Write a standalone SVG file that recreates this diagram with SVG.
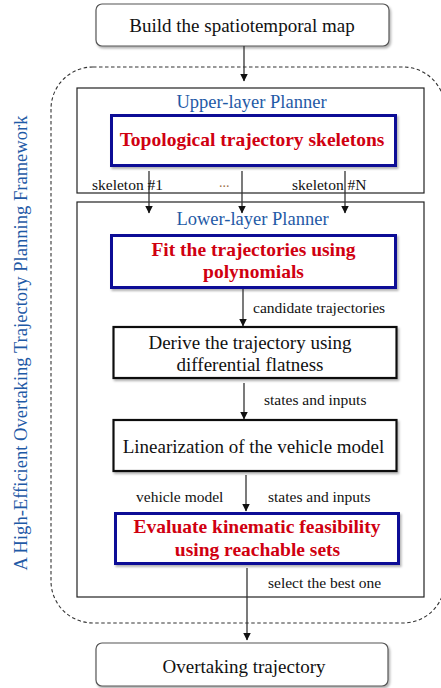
<svg xmlns="http://www.w3.org/2000/svg" width="441" height="688" viewBox="0 0 441 688">
<style>
text{font-family:"Liberation Serif","Times New Roman",serif}
.t{font-size:19px;fill:#111;text-anchor:middle}
.b{font-size:19.5px;font-weight:bold;fill:#D00010;text-anchor:middle}
.ti{font-size:18.5px;fill:#1F5AA6;text-anchor:middle}
.l{font-size:15.5px;fill:#111}
.rb{fill:#fff;stroke:#555;stroke-width:1.2}
.bb{fill:#fff;stroke:#0A0A96;stroke-width:3}
.kb{fill:#fff;stroke:#111;stroke-width:2.2}
.pl{fill:none;stroke:#222;stroke-width:1.2}
.c{stroke:#333;stroke-width:1.3;fill:none;marker-end:url(#ah)}
</style>
<defs>
<marker id="ah" markerWidth="8" markerHeight="10" refX="7.5" refY="5" orient="auto" markerUnits="userSpaceOnUse" viewBox="0 0 8 10">
<path d="M0,1 L8,5 L0,9 Z" fill="#111"/>
</marker>
<filter id="sh" x="-10%" y="-10%" width="120%" height="130%">
<feDropShadow dx="1.5" dy="2" stdDeviation="1.2" flood-color="#000" flood-opacity="0.3"/>
</filter>
</defs>
<rect width="441" height="688" fill="#fff"/>
<g id="framework">
<rect x="51" y="67" width="394" height="556" rx="42" ry="42" fill="none" stroke="#333" stroke-width="1.1" stroke-dasharray="3.5,2.5"/>
<text x="0" y="0" transform="translate(27,343) rotate(-90)" style="font-size:18.5px;fill:#1F5AA6;text-anchor:middle" textLength="455" lengthAdjust="spacingAndGlyphs">A High-Efficient Overtaking Trajectory Planning Framework</text>
</g>
<g id="build">
<rect class="rb" x="96" y="4" width="293" height="42" rx="6" filter="url(#sh)"/>
<text class="t" x="242" y="32">Build the spatiotemporal map</text>
</g>
<g id="upper">
<rect class="pl" x="77" y="88" width="347" height="105"/>
<text class="ti" x="251.5" y="108">Upper-layer Planner</text>
</g>
<g id="topo">
<rect class="bb" x="111.5" y="115.5" width="284" height="50" filter="url(#sh)"/>
<text class="b" x="252" y="146">Topological trajectory skeletons</text>
</g>
<g id="lower">
<rect class="pl" x="77" y="202" width="347" height="395"/>
<text class="ti" x="252.5" y="225">Lower-layer Planner</text>
</g>
<g id="fit">
<rect class="bb" x="111.5" y="235.5" width="284" height="52" filter="url(#sh)"/>
<text class="b" x="253.5" y="256">Fit the trajectories using</text>
<text class="b" x="253.5" y="278">polynomials</text>
</g>
<g id="derive">
<rect class="kb" x="113.5" y="327" width="283" height="51" filter="url(#sh)"/>
<text class="t" x="250" y="349">Derive the trajectory using</text>
<text class="t" x="250" y="371">differential flatness</text>
</g>
<g id="linear">
<rect class="kb" x="113.5" y="420" width="283" height="51" filter="url(#sh)"/>
<text class="t" x="253.5" y="453">Linearization of the vehicle model</text>
</g>
<g id="evaluate">
<rect class="bb" x="115.5" y="513.5" width="283" height="50" filter="url(#sh)"/>
<text class="b" x="257" y="533">Evaluate kinematic feasibility</text>
<text class="b" x="257.5" y="556">using reachable sets</text>
</g>
<g id="output">
<rect class="rb" x="96" y="643" width="292" height="43" rx="6" filter="url(#sh)"/>
<text class="t" x="244" y="673">Overtaking trajectory</text>
</g>
<g id="connectors">
<line class="c" x1="244" y1="46" x2="244" y2="81"/>
<line class="c" x1="149" y1="171" x2="149" y2="213"/>
<line class="c" x1="242" y1="171" x2="242" y2="213"/>
<line class="c" x1="345" y1="171" x2="345" y2="213"/>
<line class="c" x1="243" y1="289" x2="243" y2="326"/>
<line class="c" x1="244" y1="383" x2="244" y2="419"/>
<line class="c" x1="246" y1="475" x2="246" y2="511"/>
<line class="c" x1="247" y1="568" x2="247" y2="640"/>
<text class="l" x="92" y="190">skeleton #1</text>
<text x="219" y="187" style="font-size:14px;fill:#A0704A">...</text>
<text class="l" x="292" y="190">skeleton #N</text>
<text class="l" x="253" y="313">candidate trajectories</text>
<text class="l" x="264" y="405">states and inputs</text>
<text class="l" x="136" y="502">vehicle model</text>
<text class="l" x="268" y="502">states and inputs</text>
<text class="l" x="268" y="588">select the best one</text>
</g>
</svg>
